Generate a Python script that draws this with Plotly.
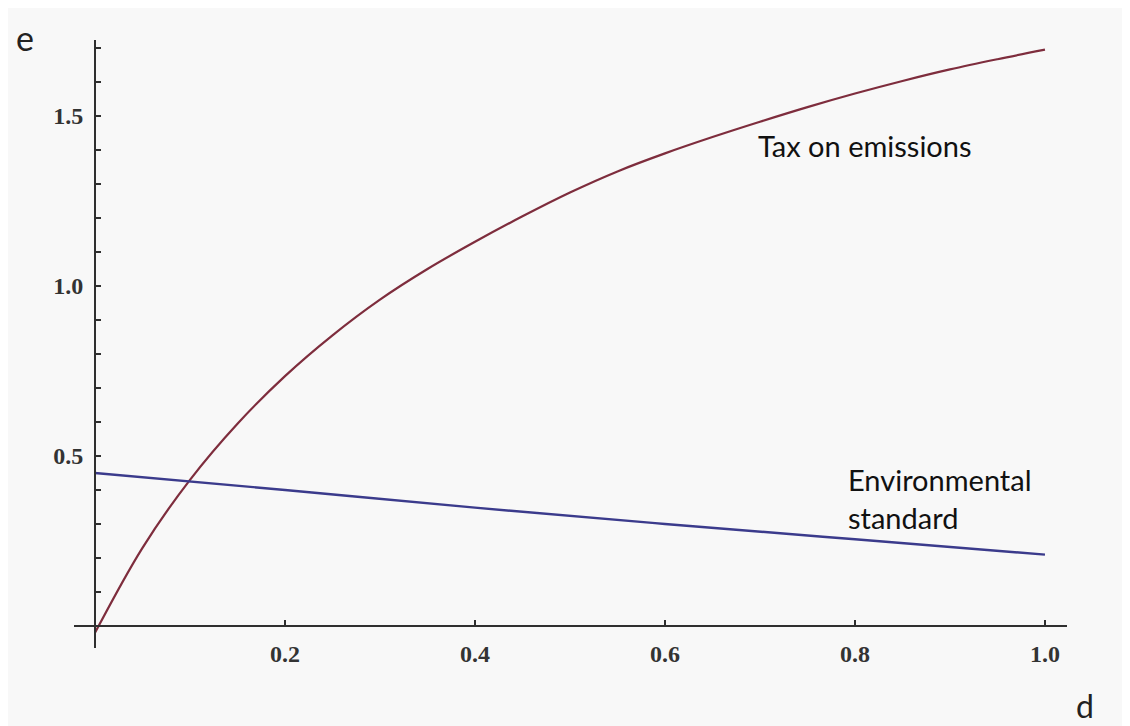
import plotly.graph_objects as go

# ---- data ----
d_tax = [0.0, 0.05, 0.1, 0.15, 0.2, 0.25, 0.3, 0.35, 0.4, 0.45, 0.5, 0.55, 0.6, 0.65, 0.7,
         0.75, 0.8, 0.85, 0.9, 0.95, 1.0]
e_tax = [-0.02, 0.23, 0.43, 0.595, 0.735, 0.855, 0.96, 1.05, 1.13, 1.205, 1.275, 1.337, 1.39, 1.438, 1.483,
         1.526, 1.566, 1.603, 1.637, 1.667, 1.695]

d_std = [0.0, 0.2, 0.4, 0.6, 0.8, 1.0]
e_std = [0.45, 0.40, 0.348, 0.30, 0.255, 0.21]

x_ticks = [0.2, 0.4, 0.6, 0.8, 1.0]
x_tick_labels = ["0.2", "0.4", "0.6", "0.8", "1.0"]
y_ticks = [0.1, 0.2, 0.3, 0.4, 0.5, 0.6, 0.7, 0.8, 0.9, 1.0, 1.1, 1.2, 1.3, 1.4, 1.5, 1.6, 1.7]
y_tick_labels = ["", "", "", "", "0.5", "", "", "", "", "1.0", "", "", "", "", "1.5", "", ""]

x_range = [-0.0221, 1.0232]
y_range = [-0.0647, 1.7235]

W, H = 1130, 726
ML, MR, MT, MB = 66, 71, 32, 86
BG = "#f8f8f8"
AXC = "#2f2f2f"

def px_to_paper(px, py):
    return (px - ML) / (W - ML - MR), (H - MB - py) / (H - MT - MB)

fig = go.Figure()
fig.add_trace(go.Scatter(x=d_tax, y=e_tax, mode="lines",
                         line=dict(color="#7e2d3d", width=2.2, shape="spline", smoothing=1.0),
                         showlegend=False, hoverinfo="skip"))
fig.add_trace(go.Scatter(x=d_std, y=e_std, mode="lines",
                         line=dict(color="#3b3b8c", width=2.4, shape="spline", smoothing=1.0),
                         showlegend=False, hoverinfo="skip"))

x_pos = (0 - y_range[0]) / (y_range[1] - y_range[0])
y_pos = (0 - x_range[0]) / (x_range[1] - x_range[0])

tick_font = dict(family="Liberation Serif", size=24, color="#333", weight="bold")

fig.update_layout(
    width=W, height=H,
    margin=dict(l=ML, r=MR, t=MT, b=MB),
    paper_bgcolor=BG, plot_bgcolor=BG,
    xaxis=dict(range=x_range, anchor="free", position=x_pos, showline=True, linecolor=AXC, linewidth=2,
               showgrid=False, zeroline=False, tickmode="array", tickvals=x_ticks, ticktext=x_tick_labels,
               ticks="inside", ticklen=5, tickwidth=1.5, tickcolor=AXC, tickfont=tick_font,
               ticklabelstandoff=6),
    yaxis=dict(range=y_range, anchor="free", position=y_pos, showline=True, linecolor=AXC, linewidth=2,
               showgrid=False, zeroline=False, tickmode="array", tickvals=y_ticks, ticktext=y_tick_labels,
               ticks="inside", ticklen=5, tickwidth=1.5, tickcolor=AXC, tickfont=tick_font,
               ticklabelstandoff=6),
)

label_font = dict(family="Lato", size=29, color="#111")

ex, ey = px_to_paper(17, 29)
dx, dy = px_to_paper(1077, 697)
tx, ty = px_to_paper(748, 138)
sx, sy = px_to_paper(838, 490)

fig.add_annotation(x=ex, y=ey, xref="paper", yref="paper", text="e", showarrow=False,
                   font=dict(family="Lato", size=34, color="#222"), xanchor="center", yanchor="middle")
fig.add_annotation(x=dx, y=dy, xref="paper", yref="paper", text="d", showarrow=False,
                   font=dict(family="Lato", size=32, color="#222"), xanchor="center", yanchor="middle")
fig.add_annotation(x=tx, y=ty, xref="paper", yref="paper", text="Tax on emissions", showarrow=False,
                   font=label_font, xanchor="left", yanchor="middle")
fig.add_annotation(x=sx, y=sy, xref="paper", yref="paper", text="Environmental<br>standard", showarrow=False,
                   font=label_font, xanchor="left", yanchor="middle", align="left")

fig.write_html("out.html")
